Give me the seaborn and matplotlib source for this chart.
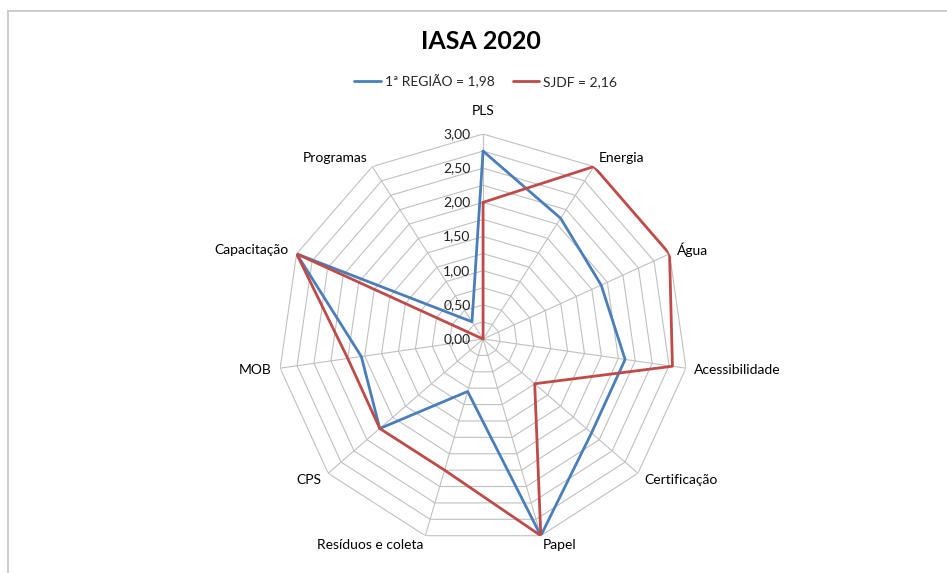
import numpy as np
import pandas as pd
import matplotlib.pyplot as plt
import seaborn as sns
from matplotlib.lines import Line2D

# dados
categorias = ['PLS', 'Energia', 'Água', 'Acessibilidade', 'Certificação', 'Papel',
              'Resíduos e coleta', 'CPS', 'MOB', 'Capacitação', 'Programas']
regiao1 = [2.75, 2.10, 1.90, 2.10, 2.10, 3.00, 0.80, 2.00, 1.80, 3.00, 0.30]
sjdf = [2.00, 3.00, 3.00, 2.80, 1.00, 3.00, 2.00, 2.00, 2.00, 3.00, 0.00]
nome_regiao1 = '1ª REGIÃO = 1,98'
nome_sjdf = 'SJDF = 2,16'
aneis = np.arange(0.25, 3.01, 0.25)
rotulos_eixo = [0.0, 0.5, 1.0, 1.5, 2.0, 2.5, 3.0]

sns.set_theme(style='white')
plt.rcParams['font.family'] = ['Lato', 'DejaVu Sans']

cor_azul = '#4a7ebb'
cor_verm = '#be4b48'
cor_grade = '#c0c0c0'

n = len(categorias)
angulos = np.linspace(0, 2 * np.pi, n, endpoint=False)
ang_fech = np.append(angulos, angulos[0])

# tabela longa para o seaborn (polígono fechado)
df = pd.concat([
    pd.DataFrame({'theta': ang_fech, 'valor': regiao1 + regiao1[:1], 'serie': nome_regiao1}),
    pd.DataFrame({'theta': ang_fech, 'valor': sjdf + sjdf[:1], 'serie': nome_sjdf}),
])

fig = plt.figure(figsize=(9.47, 5.73), dpi=100)
ax = fig.add_axes([0.2936, 0.0506, 0.433, 0.7155], projection='polar')
ax.set_theta_offset(np.pi / 2)
ax.set_theta_direction(-1)
ax.set_ylim(0, 3)
ax.grid(False)
ax.spines['polar'].set_visible(False)
ax.set_xticks([])
ax.set_yticks([])

# grade poligonal estilo Excel
for r in aneis:
    ax.plot(ang_fech, [r] * (n + 1), color=cor_grade, lw=0.8, zorder=1)
for a in angulos:
    ax.plot([a, a], [0, 3], color=cor_grade, lw=0.8, zorder=1)

sns.lineplot(data=df, x='theta', y='valor', hue='serie', sort=False, estimator=None,
             palette={nome_regiao1: cor_azul, nome_sjdf: cor_verm},
             linewidth=2.0, legend=False, ax=ax, zorder=3)
ax.set_xlabel('')
ax.set_ylabel('')

# rótulos do eixo radial
for v in rotulos_eixo:
    ax.annotate(f'{v:.2f}'.replace('.', ','), xy=(0, v), xytext=(-9, 0),
                textcoords='offset points', ha='right', va='center',
                fontsize=10, color='#202020')

# rótulos das categorias
for a, cat in zip(angulos, categorias):
    s, c = np.sin(a), np.cos(a)
    if abs(s) < 0.1:
        ha = 'center'
    elif s > 0:
        ha = 'left'
    else:
        ha = 'right'
    va = 'bottom' if c > 0.9 else 'center'
    ax.annotate(cat, xy=(a, 3), xytext=(6 * s, 7 * c + (5 if c > 0.9 else 0)),
                textcoords='offset points', ha=ha, va=va,
                fontsize=10, color='#000000', annotation_clip=False)

fig.text(0.508, 0.928, 'IASA 2020', ha='center', va='center',
         fontsize=18, fontweight='bold', color='#000000')

handles = [Line2D([], [], color=cor_azul, lw=2), Line2D([], [], color=cor_verm, lw=2)]
fig.legend(handles, [nome_regiao1, nome_sjdf], loc='center', bbox_to_anchor=(0.513, 0.858),
           ncol=2, frameon=False, fontsize=10, handlelength=1.9, columnspacing=1.3,
           handletextpad=0.3)

# moldura da área do gráfico
fig.add_artist(Line2D([8 / 947, 1], [1 - 11 / 573, 1 - 11 / 573], color='#c4c4c4', lw=1.2))
fig.add_artist(Line2D([8 / 947, 8 / 947], [0, 1 - 11 / 573], color='#c4c4c4', lw=1.2))

fig.savefig('out.png', dpi=100, facecolor='white')
